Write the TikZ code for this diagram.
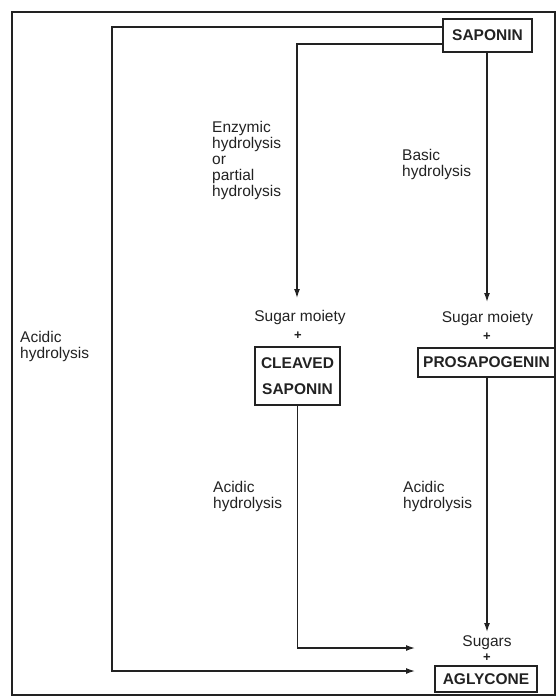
\documentclass[tikz,border=0pt]{standalone}
\usepackage{fontspec}
\setmainfont{Liberation Sans}
\usetikzlibrary{arrows.meta}
\definecolor{ink}{HTML}{222222}
\begin{document}
\begin{tikzpicture}[x=1pt,y=-1pt,
  conn/.style={draw=ink, line width=1.3pt},
  arr/.style={conn, -{Latex[length=9pt,width=6pt]}},
  box/.style={draw=ink, line width=1.3pt, inner sep=0pt, text=ink,
    font=\fontsize{15.5}{15.5}\selectfont\bfseries, align=center},
  lbl/.style={inner sep=0pt, text=ink, align=left,
    font=\fontsize{15.5}{16}\selectfont},
  lbc/.style={lbl, align=center},
  plus/.style={inner sep=0pt, text=ink, font=\fontsize{13}{13}\selectfont\bfseries}]
\useasboundingbox (0,0) rectangle (557,698);
\draw[draw=ink, line width=1.7pt] (12,12) rectangle (555,695);

% boxes
\node[box, minimum width=89pt, minimum height=33pt] (sap) at (487.5,35.5) {SAPONIN};
\node[box, minimum width=85pt, minimum height=58pt] (cleaved) at (297.5,376) {CLEAVED\\[11pt]SAPONIN};
\node[box, minimum width=137pt, minimum height=29pt] (prosa) at (486.5,362.5) {PROSAPOGENIN};
\node[box, minimum width=102pt, minimum height=26pt] (agly) at (486,679) {AGLYCONE};

% labels
\node[lbc] (sm1) at (300,317) {Sugar moiety};
\node[plus] (p1) at (298,336) {+};
\node[lbc] (sm2) at (487.5,318) {Sugar moiety};
\node[plus] (p2) at (487,337) {+};
\node[lbc] (sug) at (487,643) {Sugars};
\node[plus] (p3) at (487,658) {+};
\node[lbl, anchor=west] (enz) at (212,160) {Enzymic\\hydrolysis\\or\\partial\\hydrolysis};
\node[lbl, anchor=west] (bas) at (402,164.5) {Basic\\hydrolysis};
\node[lbl, anchor=west] (ac1) at (213,496.5) {Acidic\\hydrolysis};
\node[lbl, anchor=west] (ac2) at (403,496.5) {Acidic\\hydrolysis};
\node[lbl, anchor=west] (ac0) at (20,346) {Acidic\\hydrolysis};

% free ends
\coordinate (tipL) at (297,298);
\coordinate (tipR) at (487,302);
\coordinate (tipA) at (415,671);
\coordinate (tipB) at (415,648);
\coordinate (tipC) at (487,632);
\coordinate (y27) at (0,27);
\coordinate (y44) at (0,44);

% connectors
\draw[arr] (sap.west |- y27) -- (112,27) -- (112,671) -- (tipA);
\draw[arr] (sap.west |- y44) -| (tipL);
\draw[arr] (sap.south -| tipR) -- (tipR);
\draw[arr] (cleaved.south) |- (tipB);
\draw[arr] (prosa.south -| tipC) -- (tipC);
\end{tikzpicture}
\end{document}
